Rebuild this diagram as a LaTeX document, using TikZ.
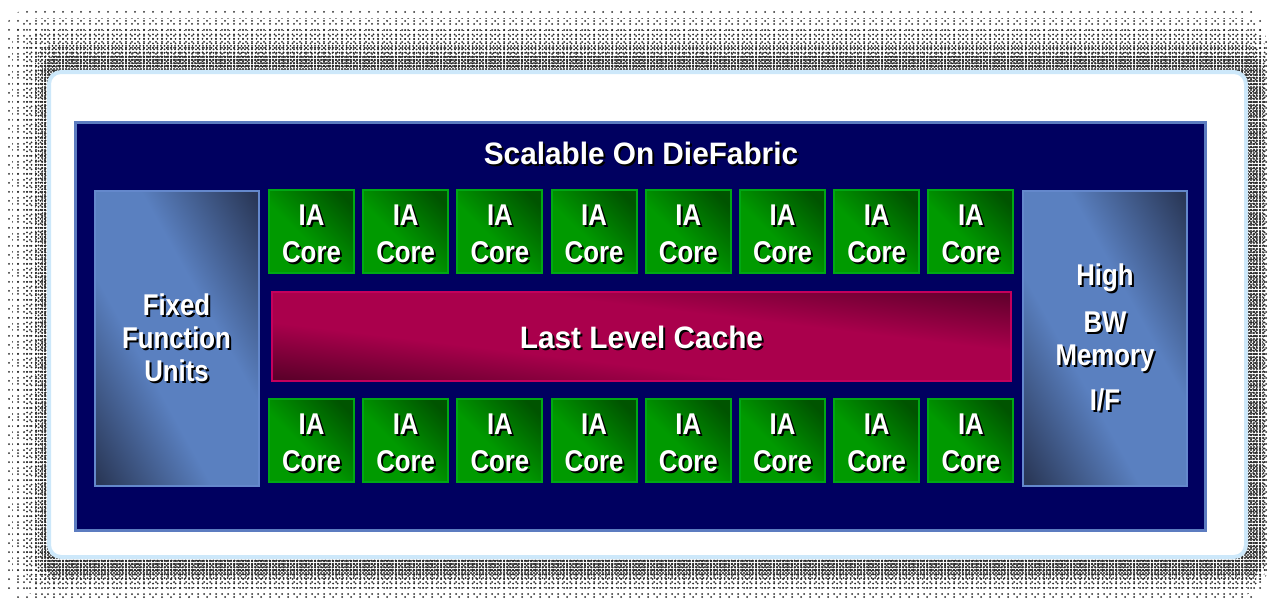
\documentclass[tikz,border=0pt]{standalone}
\usepackage{fontspec}
\setmainfont{Liberation Sans}
\newfontfamily\widefont{Liberation Sans}[FakeStretch=0.96]
\newfontfamily\narrowfont{Liberation Sans}[FakeStretch=0.86]
\usetikzlibrary{patterns.meta}

\definecolor{navy}{RGB}{0,0,96}
\definecolor{fabricedge}{RGB}{92,124,192}
\definecolor{sidelight}{RGB}{90,128,192}
\definecolor{sidedark}{RGB}{42,56,88}
\definecolor{sideedge}{RGB}{100,136,204}
\definecolor{corelight}{RGB}{0,154,0}
\definecolor{coredark}{RGB}{0,84,0}
\definecolor{coreedge}{RGB}{0,168,20}
\definecolor{cachelight}{RGB}{170,0,76}
\definecolor{cachedark}{RGB}{92,0,42}
\definecolor{cacheedge}{RGB}{196,0,92}
\definecolor{dotgray}{RGB}{40,40,40}
\definecolor{glow}{RGB}{205,232,250}

% gradients along the box diagonal (bottom-left -> top-right)
\pgfdeclarehorizontalshading{sideshade}{100bp}{color(0bp)=(sidedark); color(16bp)=(sidedark); color(40bp)=(sidelight); color(60bp)=(sidelight); color(84bp)=(sidedark); color(100bp)=(sidedark)}
\pgfdeclarehorizontalshading{cacheshade}{100bp}{color(0bp)=(cachedark); color(16bp)=(cachedark); color(38bp)=(cachelight); color(62bp)=(cachelight); color(86bp)=(cachedark); color(100bp)=(cachedark)}
\pgfdeclarehorizontalshading{coreshade}{100bp}{color(0bp)=(corelight); color(44bp)=(corelight); color(78bp)=(coredark); color(100bp)=(coredark)}

% fill the box left,top -- right,bottom with a shading stretched along its diagonal
\newcommand\diagfill[5]{%
  \pgfmathsetmacro\dfx{((#4)-(#2))/10}\pgfmathsetmacro\dfy{((#5)-(#3))/10}%
  \begin{scope}[transform canvas={shift={({#2},{#5})}, xscale=\dfx, yscale=\dfy}]
    \shade[shading=#1, shading angle=45] (0,0) rectangle (10,-10);
  \end{scope}}

% white text with a small black drop shadow
\newcommand\shtxt[1]{\makebox[0pt][l]{\kern2pt\raisebox{-2pt}{\color{black}#1}}#1}

\tikzset{
  box/.style={inner sep=0pt, outer sep=0pt, line width=2pt, text=white, align=center},
  corebox/.style={box, draw=coreedge,
    minimum width=85pt, minimum height=83pt,
    font=\narrowfont\bfseries\fontsize{30}{37}\selectfont},
  sidebox/.style={box, draw=sideedge,
    minimum width=164pt, minimum height=295pt,
    font=\narrowfont\bfseries\fontsize{30}{33}\selectfont},
  cachebox/.style={box, draw=cacheedge,
    minimum width=739pt, minimum height=89pt,
    font=\widefont\bfseries\fontsize{31}{37}\selectfont},
  halo/.style 2 args={pattern={Dots[distance=#1, radius=#2]}, pattern color=dotgray}
}

\begin{document}
\begin{tikzpicture}[x=1pt, y=-1pt]
  \useasboundingbox (0,0) rectangle (1270,606);
  \fill[white] (0,0) rectangle (1270,606);

  % dithered shadow round the white panel, denser towards the panel
  \fill[halo={9pt}{1pt}, rounded corners=30pt] (3,8) rectangle (1268,602);
  \fill[halo={6pt}{1pt}, rounded corners=26pt] (12,18) rectangle (1267,595);
  \fill[halo={4.5pt}{1pt}, rounded corners=22pt] (25,30) rectangle (1266,588);
  \fill[halo={3.5pt}{1pt}, rounded corners=18pt] (35,45) rectangle (1265,580);
  \fill[halo={3pt}{1.05pt}, rounded corners=14pt] (42,56) rectangle (1263,575);

  % white panel with a pale blue rim
  \fill[white, draw=glow, line width=4pt, rounded corners=12pt]
    (49,72) rectangle (1246,557);

  % the die
  \node[box, fill=navy, draw=fabricedge, line width=3pt,
        minimum width=1130pt, minimum height=408pt] (fabric) at (640,326) {};
  \node[text=white, font=\widefont\bfseries\fontsize{31}{37}\selectfont,
        anchor=base] (title) at (641,164) {\shtxt{Scalable On DieFabric}};

  % block fills
  \diagfill{sideshade}{94.5}{191}{258.5}{486}
  \diagfill{sideshade}{1023}{191}{1187}{486}
  \diagfill{cacheshade}{272}{292}{1011}{381}
  \foreach \i in {0,...,7} {
    \pgfmathsetmacro\cx{311.5+94.2*\i}
    \diagfill{coreshade}{\cx-42.5}{190}{\cx+42.5}{273}
    \diagfill{coreshade}{\cx-42.5}{399}{\cx+42.5}{482}
  }

  \node[sidebox] (ffu) at (176.5,338.5)
    {\shtxt{Fixed}\\\shtxt{Function}\\\shtxt{Units}};
  \node[sidebox] (mem) at (1105,338.5)
    {\shtxt{High}\\[14pt]\shtxt{BW}\\\shtxt{Memory}\\[12pt]\shtxt{I/F}};

  \node[cachebox] (llc) at (641.5,336.5)
    {\rule{0pt}{26pt}\shtxt{Last Level Cache}};

  \foreach \i in {0,...,7} {
    \node[corebox] (top\i) at ({311.5+94.2*\i},231.5)
      {\rule{0pt}{28pt}\shtxt{IA}\\\shtxt{Core}};
    \node[corebox] (bot\i) at ({311.5+94.2*\i},440.5)
      {\rule{0pt}{28pt}\shtxt{IA}\\\shtxt{Core}};
  }
\end{tikzpicture}
\end{document}
